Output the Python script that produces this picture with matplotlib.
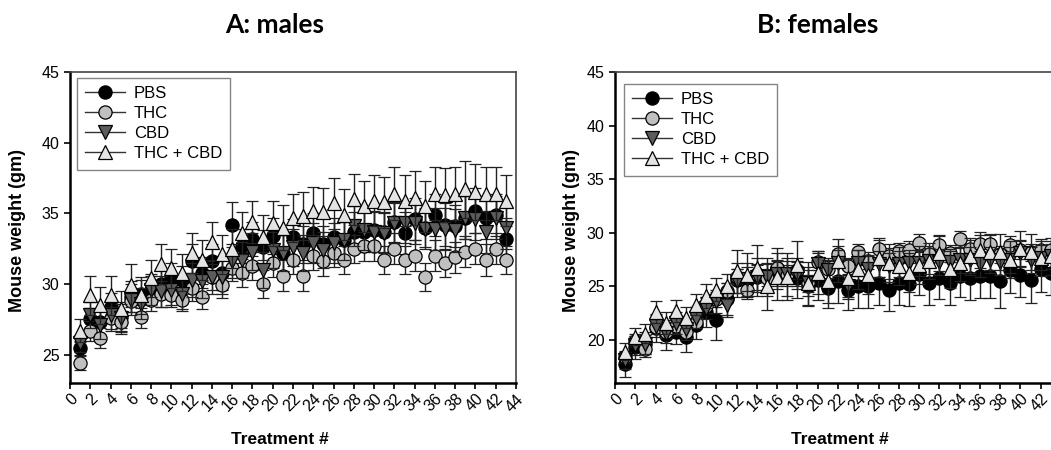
import matplotlib
matplotlib.use("Agg")
import matplotlib.pyplot as plt
from matplotlib.lines import Line2D

plt.rcParams['font.family'] = ['Liberation Sans', 'DejaVu Sans']

days = list(range(1, 44))
series_names = ["PBS", "THC", "CBD", "THC + CBD"]

# males
m_pbs = [25.5, 27.5, 27.3, 28.4, 27.7, 29.1, 29.3, 29.6, 30.0, 30.4, 30.3, 31.6, 30.8, 31.6, 30.8,
         34.2, 32.7, 33.2, 32.6, 33.4, 32.2, 33.3, 32.8, 33.6, 32.8, 33.3, 33.1, 33.7, 33.7, 33.8,
         33.7, 34.4, 33.6, 34.6, 34.0, 34.9, 34.2, 34.1, 34.7, 35.2, 34.7, 34.9, 33.2]
m_thc = [24.4, 26.7, 26.2, 27.6, 27.3, 28.8, 27.7, 28.9, 29.3, 29.2, 28.9, 29.7, 29.1, 30.5, 29.9,
         31.1, 30.8, 31.3, 30.0, 31.5, 30.6, 31.7, 30.6, 32.0, 31.6, 32.2, 31.7, 32.5, 32.7, 32.7,
         31.7, 32.5, 31.7, 32.0, 30.5, 32.0, 31.5, 31.9, 32.3, 32.5, 31.7, 32.5, 31.7]
m_cbd = [25.8, 27.8, 27.1, 27.8, 27.6, 28.9, 28.6, 29.6, 29.5, 29.6, 29.3, 30.3, 30.2, 30.5, 30.5,
         31.6, 31.7, 32.3, 31.0, 32.4, 32.2, 32.6, 32.2, 32.9, 32.4, 32.9, 33.1, 34.1, 33.8, 33.7,
         33.6, 34.3, 34.3, 34.3, 33.9, 33.9, 33.9, 33.8, 34.7, 34.6, 33.7, 34.7, 34.0]
m_tc = [26.7, 29.2, 28.5, 29.2, 28.2, 29.9, 29.2, 30.4, 31.4, 31.1, 30.8, 32.2, 31.7, 33.0, 32.1,
        32.5, 33.6, 34.4, 33.3, 34.3, 34.0, 34.7, 34.8, 35.2, 35.1, 35.7, 34.9, 36.0, 35.5, 35.9,
        35.8, 36.4, 35.9, 36.1, 35.5, 36.4, 36.3, 36.4, 36.7, 36.5, 36.4, 36.4, 35.9]

m_pbs_err = [0.5, 0.8, 0.9, 1.0, 1.0, 1.1, 1.0, 1.0, 1.0, 1.1, 1.0, 1.2, 1.1, 1.2, 1.2,
             1.6, 1.2, 1.2, 1.2, 1.3, 1.3, 1.3, 1.3, 1.4, 1.3, 1.4, 1.3, 1.4, 1.4, 1.4,
             1.4, 1.4, 1.5, 1.5, 1.4, 1.5, 1.5, 1.5, 1.5, 1.6, 1.5, 1.5, 1.5]
m_thc_err = [0.5, 0.7, 0.7, 0.8, 0.8, 0.8, 0.8, 0.8, 0.9, 0.8, 0.8, 0.9, 0.9, 0.9, 0.9,
             0.9, 1.0, 1.0, 1.0, 1.0, 1.1, 1.0, 1.1, 1.0, 1.0, 1.0, 1.0, 1.0, 1.1, 1.1,
             1.0, 1.1, 1.0, 1.1, 1.0, 1.1, 1.0, 1.1, 1.1, 1.1, 1.1, 1.1, 1.0]
m_cbd_err = [0.6, 0.9, 1.0, 1.1, 1.0, 1.1, 1.1, 1.1, 1.1, 1.1, 1.1, 1.2, 1.2, 1.2, 1.2,
             1.2, 1.3, 1.3, 1.3, 1.3, 1.3, 1.3, 1.3, 1.4, 1.3, 1.4, 1.4, 1.4, 1.4, 1.4,
             1.4, 1.4, 1.4, 1.5, 1.4, 1.5, 1.5, 1.5, 1.5, 1.5, 1.5, 1.5, 1.5]
m_tc_err = [0.8, 1.4, 1.3, 1.4, 1.3, 1.5, 1.3, 1.3, 1.4, 1.4, 1.3, 1.4, 1.4, 1.4, 1.4,
            1.4, 1.5, 1.5, 1.6, 1.6, 1.6, 1.7, 1.7, 1.7, 1.7, 1.8, 1.8, 1.8, 1.8, 1.8,
            1.8, 1.9, 1.8, 1.9, 1.8, 1.9, 1.9, 1.9, 2.0, 2.0, 1.9, 1.9, 1.8]

# females
f_pbs = [17.8, 19.4, 19.6, 21.1, 20.5, 20.8, 20.3, 21.4, 22.6, 21.9, 23.8, 25.6, 25.5, 25.9, 25.9,
         26.7, 25.9, 25.8, 25.0, 25.6, 24.9, 25.5, 24.7, 25.0, 25.0, 25.3, 24.7, 25.3, 25.2, 26.2,
         25.3, 25.8, 25.3, 26.0, 25.8, 26.0, 26.0, 25.5, 26.5, 26.1, 25.6, 26.6, 26.3]
f_thc = [18.4, 19.9, 19.2, 21.2, 20.8, 21.3, 20.8, 21.7, 23.2, 23.8, 24.6, 25.9, 24.7, 26.2, 25.8,
         26.7, 26.2, 26.5, 25.3, 27.3, 26.6, 28.0, 26.9, 28.2, 27.4, 28.5, 27.8, 28.3, 28.4, 29.1,
         28.0, 28.9, 28.1, 29.4, 28.5, 29.0, 29.0, 28.0, 28.9, 28.4, 28.2, 28.4, 28.4]
f_cbd = [18.1, 19.5, 19.6, 21.3, 20.7, 21.6, 21.0, 22.1, 23.0, 23.6, 23.3, 25.5, 25.7, 25.9, 25.9,
         26.2, 26.2, 26.2, 25.3, 27.1, 26.5, 27.2, 25.0, 27.2, 26.6, 27.1, 26.9, 27.1, 27.2, 27.2,
         27.4, 27.3, 27.3, 27.5, 27.5, 27.1, 27.5, 27.3, 27.5, 28.1, 27.5, 27.7, 27.8]
f_tc = [18.9, 20.3, 20.6, 22.6, 21.6, 22.7, 22.1, 23.3, 24.1, 24.7, 25.0, 26.4, 26.1, 26.7, 25.0,
        25.9, 25.9, 27.0, 25.3, 26.3, 25.5, 27.4, 25.8, 26.6, 26.1, 27.7, 27.2, 26.9, 26.3, 27.0,
        27.4, 28.1, 26.6, 27.2, 27.8, 28.4, 28.2, 28.2, 27.5, 28.5, 28.2, 27.7, 27.8]

f_pbs_err = [1.2, 1.2, 1.2, 1.3, 1.4, 1.2, 1.4, 1.3, 1.4, 1.9, 1.5, 1.6, 1.7, 1.8, 1.8,
             1.9, 1.8, 1.9, 1.8, 1.9, 1.9, 2.0, 1.9, 2.0, 2.0, 2.0, 2.0, 2.0, 2.0, 2.0,
             2.0, 2.0, 2.0, 2.0, 2.1, 2.1, 2.1, 2.5, 2.1, 2.1, 2.1, 2.1, 2.1]
f_thc_err = [0.5, 0.5, 0.5, 0.6, 0.6, 0.6, 0.6, 0.6, 0.7, 0.7, 0.7, 0.7, 0.7, 0.8, 0.8,
             0.8, 0.8, 0.8, 0.8, 0.8, 0.8, 0.8, 0.8, 0.8, 0.8, 0.8, 0.8, 0.8, 0.8, 0.8,
             0.8, 0.8, 0.8, 0.8, 0.8, 0.8, 0.8, 0.8, 0.8, 0.8, 0.8, 0.8, 0.8]
f_cbd_err = [0.8, 0.9, 0.9, 1.0, 1.0, 1.0, 1.0, 1.0, 1.0, 1.1, 1.1, 1.1, 1.1, 1.2, 1.2,
             1.2, 1.2, 1.2, 1.2, 1.2, 1.2, 1.2, 1.2, 1.2, 1.2, 1.2, 1.2, 1.2, 1.2, 1.2,
             1.2, 1.2, 1.2, 1.2, 1.2, 1.2, 1.2, 1.2, 1.2, 1.2, 1.2, 1.2, 1.2]
f_tc_err = [0.8, 0.8, 0.9, 1.0, 1.0, 1.0, 1.0, 1.0, 1.1, 1.1, 1.2, 2.0, 2.0, 2.2, 2.2,
            2.2, 2.2, 2.2, 2.0, 2.0, 2.0, 2.0, 1.8, 1.8, 1.8, 1.8, 1.8, 1.8, 1.8, 1.8,
            1.7, 1.7, 1.7, 1.7, 1.7, 1.7, 1.7, 1.7, 1.7, 1.7, 1.7, 1.7, 1.7]

colors = ["#000000", "#c0c0c0", "#5c5c5c", "#e4e4e4"]
markers = ["o", "o", "v", "^"]

fig = plt.figure(figsize=(10.51, 4.5), dpi=100)
W, H = 1051.0, 450.0
ax1 = fig.add_axes([70 / W, (H - 383) / H, 446 / W, 311 / H])
ax2 = fig.add_axes([615 / W, (H - 383) / H, 446 / W, 311 / H])


def draw(ax, data, errs, ylim, yticks, xlabeled, leg_anchor):
    for i in range(4):
        ax.errorbar(days, data[i], yerr=errs[i], fmt=markers[i], ms=9.5,
                    mfc=colors[i], mec="black", mew=0.9,
                    ecolor="#222222", elinewidth=1.0, capsize=4.5, capthick=1.0,
                    zorder=3 + i)
    ax.set_xlim(0, 44)
    ax.set_ylim(*ylim)
    ax.set_xticks(range(0, 45, 2))
    ax.set_xticklabels([str(t) if t <= xlabeled else "" for t in range(0, 45, 2)])
    ax.set_yticks(yticks)
    ax.tick_params(axis="x", labelsize=11.5, rotation=45, length=4, width=1.2, pad=2)
    ax.tick_params(axis="y", labelsize=11.5, length=4, width=1.2)
    for lab in ax.get_xticklabels():
        lab.set_ha("right")
        lab.set_rotation_mode("anchor")
    ax.spines["left"].set_linewidth(1.8)
    ax.spines["bottom"].set_linewidth(1.8)
    ax.spines["top"].set_linewidth(1.2)
    ax.spines["right"].set_linewidth(1.2)
    ax.spines["top"].set_color("#444444")
    ax.spines["right"].set_color("#444444")
    handles = [Line2D([0], [0], color="#333333", lw=1.0, marker=markers[i], ms=9.5,
                      mfc=colors[i], mec="black", mew=0.9) for i in range(4)]
    leg = ax.legend(handles, series_names, loc="upper left", bbox_to_anchor=leg_anchor,
                    fontsize=12, frameon=True, fancybox=False, edgecolor="#666666",
                    handlelength=2.4, handletextpad=0.5, labelspacing=0.3,
                    borderpad=0.5, borderaxespad=0)
    leg.get_frame().set_linewidth(1.0)


draw(ax1, [m_pbs, m_thc, m_cbd, m_tc], [m_pbs_err, m_thc_err, m_cbd_err, m_tc_err],
     (23, 45), [25, 30, 35, 40, 45], 44, (7 / 446, 1 - 6 / 311))
draw(ax2, [f_pbs, f_thc, f_cbd, f_tc], [f_pbs_err, f_thc_err, f_cbd_err, f_tc_err],
     (16, 45), [20, 25, 30, 35, 40, 45], 42, (9 / 446, 1 - 12 / 311))

title_font = dict(family=["Lato", "DejaVu Sans"], fontweight="bold", fontsize=19)
fig.text(275 / W, 1 - 25 / H, "A: males", ha="center", va="center", **title_font)
fig.text(818 / W, 1 - 25 / H, "B: females", ha="center", va="center", **title_font)

for xc in (18, 572):
    fig.text(xc / W, 1 - 230 / H, "Mouse weight (gm)", rotation=90, ha="center", va="center",
             fontsize=13, fontweight="bold")
for xc in (280, 840):
    fig.text(xc / W, 1 - 440 / H, "Treatment #", ha="center", va="center",
             fontsize=12.5, fontweight="bold")

fig.savefig("out.png", dpi=100)
